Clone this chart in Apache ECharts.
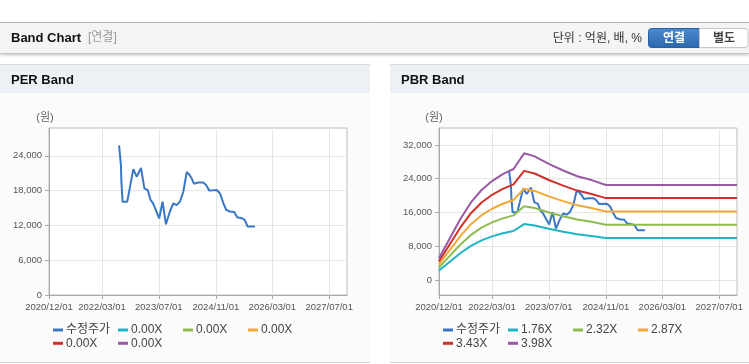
<!DOCTYPE html>
<html><head><meta charset="utf-8">
<script src="https://cdn.jsdelivr.net/npm/echarts@6/dist/echarts.min.js"></script>
<style>html,body{margin:0;padding:0;background:#fff}#c{width:749px;height:364px}</style>
</head><body><div id="c"></div>
<script>
// ---------- data ----------
const xTickDates = ['2020-12-01','2022-03-01','2023-07-01','2024-11-01','2026-03-01','2027-07-01'];
const xMin = '2020-12-01';
const xMax = '2027-12-01';
const perYTicks = [0, 6000, 12000, 18000, 24000];
const pbrYTicks = [0, 8000, 16000, 24000, 32000];

const priceLabel = '수정주가';
const perBandLabels = ['0.00X','0.00X','0.00X','0.00X','0.00X'];
const pbrBandLabels = ['1.76X','2.32X','2.87X','3.43X','3.98X'];

const priceDates = ['2022-07-25','2022-08-04','2022-08-10','2022-08-14','2022-08-24','2022-10-03','2022-11-24','2022-12-23',
  '2023-01-29','2023-02-27','2023-03-28','2023-04-21','2023-05-13','2023-07-04','2023-08-02','2023-08-31','2023-10-04',
  '2023-11-02','2023-12-01','2023-12-29','2024-01-27','2024-02-25','2024-03-17','2024-04-08','2024-04-27','2024-06-03',
  '2024-07-16','2024-08-08','2024-09-06','2024-11-09','2024-12-07','2025-01-05','2025-01-28','2025-03-01','2025-04-08',
  '2025-05-03','2025-06-19','2025-07-08','2025-08-01','2025-10-03'];
const priceValues = [25800,25700,22400,19500,16100,16100,21700,20400,
  21900,18400,18100,16400,15800,13200,16100,12200,14400,
  15800,15500,16100,17800,21200,20800,20100,19200,19400,
  19400,19000,18000,18100,17500,15800,14700,14400,14300,
  13400,13200,12900,11800,11800];

const bandDates = ['2020-12-01','2021-03-01','2021-06-01','2021-09-01','2021-12-01','2022-03-01','2022-06-01','2022-09-01',
  '2022-12-01','2023-03-01','2023-07-01','2023-11-01','2024-03-01','2024-07-01','2024-11-01','2027-12-01'];
const band176 = [2288,4312,6371,8131,9434,10366,11088,11634,13270,12954,12162,11475,10877,10472,9962,9962];
const band232 = [3016,5684,8398,10718,12435,13665,14616,15335,17493,17075,16031,15126,14338,13804,13131,13131];
const band287 = [3731,7032,10389,13259,15383,16904,18081,18971,21640,21123,19832,18712,17737,17077,16244,16244];
const band343 = [4459,8404,12417,15847,18385,20203,21609,22672,25862,25245,23701,22364,21197,20409,19414,19414];
const band398 = [5174,9751,14408,18388,21333,23442,25074,26308,30009,29293,27502,25950,24596,23681,22527,22527];
const pbrBands = [band176, band232, band287, band343, band398];

// ---------- styles ----------
const FONT = "'Liberation Sans', Arial, 'Noto Sans CJK KR', sans-serif";
const colors = ['#3a78c6', '#1fb3c4', '#8fbc4f', '#f2a93b', '#d0312b', '#9a58a5'];
const axisGray = '#a9a9a9';
const splitGray = '#e6e6e6';

const pairs = (ds, vs) => ds.map((d, i) => [d, vs[i]]);

const displayName = {};
const series = [];
const perNames = [], pbrNames = [];

function addSeries(id, label, data, color, axis) {
  displayName[id] = label;
  series.push({
    name: id, type: 'line', xAxisIndex: axis, yAxisIndex: axis, data: data,
    showSymbol: false, symbol: 'none', animation: false, silent: true,
    lineStyle: { color: color, width: 2 }, itemStyle: { color: color }
  });
}
addSeries('per_p', priceLabel, pairs(priceDates, priceValues), colors[0], 0); perNames.push('per_p');
perBandLabels.forEach((l, i) => { addSeries('per_b' + i, l, [], colors[i + 1], 0); perNames.push('per_b' + i); });
addSeries('pbr_p', priceLabel, pairs(priceDates, priceValues), colors[0], 1); pbrNames.push('pbr_p');
pbrBandLabels.forEach((l, i) => { addSeries('pbr_b' + i, l, pairs(bandDates, pbrBands[i]), colors[i + 1], 1); pbrNames.push('pbr_b' + i); });

function legendsFor(names, x0, y0) {
  return names.map((n, i) => ({
    data: [n], left: x0 + (i % 4) * 65, top: y0 + Math.floor(i / 4) * 13.3,
    padding: 0, icon: 'rect', itemWidth: 10, itemHeight: 3, itemGap: 0,
    selectedMode: false, formatter: nm => displayName[nm],
    textStyle: { fontSize: 12, color: '#444', fontFamily: FONT, lineHeight: 13, padding: [0, 0, 0, -2] }
  }));
}

function xAxisFor(g) {
  return {
    type: 'time', gridIndex: g, min: xMin, max: xMax,
    axisLine: { onZero: false, lineStyle: { color: axisGray } },
    axisTick: { show: true, length: 4, customValues: xTickDates, lineStyle: { color: axisGray } },
    axisLabel: { customValues: xTickDates, formatter: '{yyyy}/{MM}/{dd}', color: '#555', fontSize: 9.5, margin: 8, fontFamily: FONT, hideOverlap: false },
    splitLine: { show: true, lineStyle: { color: splitGray } }
  };
}
function yAxisFor(g, min, max, ticks) {
  return {
    type: 'value', gridIndex: g, min: min, max: max,
    axisLine: { show: true, lineStyle: { color: axisGray } },
    axisTick: { show: true, length: 4, customValues: ticks, lineStyle: { color: axisGray } },
    axisLabel: { customValues: ticks, color: '#555', fontSize: 9.5, margin: 7, fontFamily: FONT },
    splitLine: { show: true, lineStyle: { color: splitGray } }
  };
}

const graphic = [
  // top header bar
  { type: 'rect', z: -10, shape: { x: 0, y: 22, width: 749, height: 31 },
    style: { fill: '#f4f4f4', shadowBlur: 3, shadowOffsetY: 2, shadowColor: 'rgba(0,0,0,0.25)' } },
  { type: 'line', z: -9, shape: { x1: 0, y1: 22.5, x2: 749, y2: 22.5 }, style: { stroke: '#b5b5b5', lineWidth: 1 } },
  { type: 'line', z: -9, shape: { x1: 0, y1: 53.5, x2: 749, y2: 53.5 }, style: { stroke: '#c6c6c6', lineWidth: 1 } },
  { type: 'text', z: 5, style: { x: 11, y: 38, text: 'Band Chart', fill: '#111', font: 'bold 13px ' + FONT, verticalAlign: 'middle' } },
  { type: 'text', z: 5, style: { x: 88, y: 38, text: '[연결]', fill: '#999', font: '12px ' + FONT, verticalAlign: 'middle' } },
  { type: 'text', z: 5, style: { x: 642, y: 39, text: '단위 : 억원, 배, %', fill: '#333', font: '12px ' + FONT, align: 'right', verticalAlign: 'middle' } },
  { type: 'rect', z: 4, shape: { x: 648.5, y: 28.5, width: 51, height: 19, r: [3, 0, 0, 3] },
    style: { fill: new echarts.graphic.LinearGradient(0, 0, 0, 1, [{ offset: 0, color: '#4c8bcf' }, { offset: 1, color: '#2b67ae' }]), stroke: '#2a609f' } },
  { type: 'text', z: 5, style: { x: 674, y: 38.5, text: '연결', fill: '#fff', font: 'bold 12px ' + FONT, align: 'center', verticalAlign: 'middle' } },
  { type: 'rect', z: 4, shape: { x: 699.5, y: 28.5, width: 48.5, height: 19, r: [0, 3, 3, 0] },
    style: { fill: '#fff', stroke: '#c6c6c6' } },
  { type: 'text', z: 5, style: { x: 724, y: 38.5, text: '별도', fill: '#444', font: 'bold 12px ' + FONT, align: 'center', verticalAlign: 'middle' } },
];
function panel(x, w, title) {
  graphic.push(
    { type: 'rect', z: -10, shape: { x: x, y: 64, width: w, height: 299 }, style: { fill: '#fbfbfb' } },
    { type: 'rect', z: -9, shape: { x: x, y: 64, width: w, height: 29 }, style: { fill: '#edf1f6' } },
    { type: 'line', z: -8, shape: { x1: x, y1: 64.5, x2: x + w, y2: 64.5 }, style: { stroke: '#d9d9d9', lineWidth: 1 } },
    { type: 'line', z: -8, shape: { x1: x, y1: 362.5, x2: x + w, y2: 362.5 }, style: { stroke: '#d0d0d0', lineWidth: 1 } },
    { type: 'text', z: 5, style: { x: x + 11, y: 80, text: title, fill: '#111', font: 'bold 13px ' + FONT, verticalAlign: 'middle' } }
  );
}
panel(0, 370, 'PER Band');
panel(390, 359, 'PBR Band');
graphic.push(
  { type: 'text', z: 5, style: { x: 45, y: 117.5, text: '(원)', fill: '#666', font: '11px ' + FONT, align: 'center', verticalAlign: 'middle' } },
  { type: 'text', z: 5, style: { x: 434, y: 117.5, text: '(원)', fill: '#666', font: '11px ' + FONT, align: 'center', verticalAlign: 'middle' } }
);

const option = {
  animation: false,
  graphic: graphic,
  grid: [
    { left: 49, top: 128, width: 298, height: 167, show: true, backgroundColor: '#fff', borderColor: '#bdbdbd', borderWidth: 1 },
    { left: 439, top: 128, width: 298, height: 167, show: true, backgroundColor: '#fff', borderColor: '#bdbdbd', borderWidth: 1 }
  ],
  xAxis: [xAxisFor(0), xAxisFor(1)],
  yAxis: [yAxisFor(0, 0, 28800, perYTicks), yAxisFor(1, -3500, 36000, pbrYTicks)],
  legend: legendsFor(perNames, 53, 323.5).concat(legendsFor(pbrNames, 443, 323.5)),
  series: series
};
const chart = echarts.init(document.getElementById('c'), null, { renderer: 'canvas' });
chart.setOption(option);
</script></body></html>
